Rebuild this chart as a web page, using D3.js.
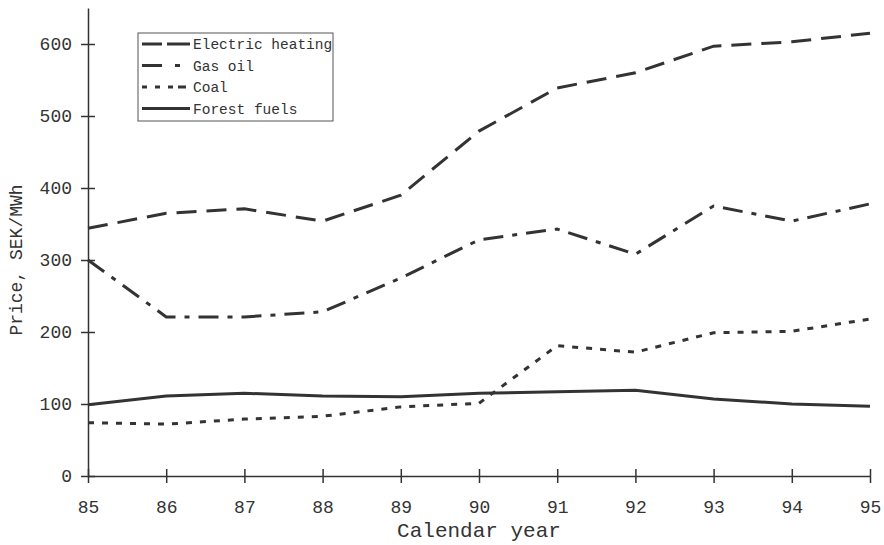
<!DOCTYPE html>
<html>
<head>
<meta charset="utf-8">
<script src="https://cdn.jsdelivr.net/npm/d3@7"></script>
<style>
  body { margin: 0; background: #fff; }
  text { font-family: "Liberation Mono", "Courier New", monospace; fill: #333; }
</style>
</head>
<body>
<svg id="chart" width="884" height="545"></svg>
<script>
const years = [85, 86, 87, 88, 89, 90, 91, 92, 93, 94, 95];
const electricHeating = [344, 365, 371, 354, 390, 479, 539, 560, 597, 603, 615];
const gasOil = [300, 221, 221, 228, 275, 328, 343, 308, 375, 354, 378];
const coal = [74, 72, 79, 83, 96, 101, 181, 172, 199, 201, 218];
const forestFuels = [99, 111, 115, 111, 110, 115, 117, 119, 107, 100, 97];
const yTicks = [0, 100, 200, 300, 400, 500, 600];

const seriesNames = ['Electric heating', 'Gas oil', 'Coal', 'Forest fuels'];
const seriesValues = [electricHeating, gasOil, coal, forestFuels];
const dashes = ['20,10', '20,9,5,9', '6,8', null];

const margin = { top: 8, left: 88, right: 14, bottom: 69 };
const width = 884, height = 545;
const ink = '#333';

const svg = d3.select('#chart');
const g = svg.append('g');

const x = d3.scaleLinear().domain([85, 95]).range([margin.left, width - margin.right]);
const y = d3.scaleLinear().domain([0, 650]).range([height - margin.bottom, height - margin.bottom - 650 * 0.72]);

// axes
const xAxis = g.append('g')
    .attr('transform', `translate(0,${y(0)})`)
    .call(d3.axisBottom(x).tickValues(years).tickFormat(d3.format('d')).tickSizeInner(7).tickSizeOuter(0).tickPadding(17));
xAxis.selectAll('.tick line').attr('y1', -7);

const yAxis = g.append('g')
    .attr('transform', `translate(${x(85)},0)`)
    .call(d3.axisLeft(y).tickValues(yTicks).tickSizeInner(7).tickSizeOuter(0).tickPadding(9));
yAxis.selectAll('.tick line').attr('x1', 7).attr('x2', -7);

[xAxis, yAxis].forEach(ax => {
    ax.select('.domain').attr('stroke', ink).attr('stroke-width', 1.5);
    ax.selectAll('.tick line').attr('stroke', ink).attr('stroke-width', 1.5);
    ax.selectAll('.tick text').attr('font-size', 18).style('font-family', '"Liberation Mono", monospace').attr('fill', ink);
});

// series lines
const line = d3.line()
    .x((d, i) => x(years[i]))
    .y(d => y(d));

const lines = g.append('g').attr('class', 'graph-lines');
seriesValues.forEach((vals, i) => {
    lines.append('path')
        .datum(vals)
        .attr('d', line)
        .attr('fill', 'none')
        .attr('stroke', ink)
        .attr('stroke-width', 3)
        .attr('stroke-dasharray', dashes[i]);
});

// axis titles
g.append('text')
    .attr('x', (x(85) + x(95)) / 2)
    .attr('y', 537)
    .attr('text-anchor', 'middle')
    .attr('font-size', 21)
    .text('Calendar year');

g.append('text')
    .attr('transform', `translate(22,${y(300)}) rotate(-90)`)
    .attr('text-anchor', 'middle')
    .attr('font-size', 18)
    .text('Price, SEK/MWh');

// legend
const legend = g.append('g').attr('transform', 'translate(138,33)');
legend.append('rect')
    .attr('width', 195).attr('height', 88)
    .attr('fill', '#fff').attr('stroke', '#555').attr('stroke-width', 1);

const legendDashes = ['20,5,23', '20,13,5', '5,8,5,8,5', null];
seriesNames.forEach((name, i) => {
    const row = legend.append('g').attr('transform', `translate(4,${11 + i * 21.5})`);
    row.append('line')
        .attr('x1', 0).attr('x2', 48)
        .attr('stroke', ink).attr('stroke-width', 3)
        .attr('stroke-dasharray', legendDashes[i]);
    row.append('text')
        .attr('x', 51).attr('y', 5)
        .attr('font-size', 14.5)
        .text(name);
});
</script>
</body>
</html>
